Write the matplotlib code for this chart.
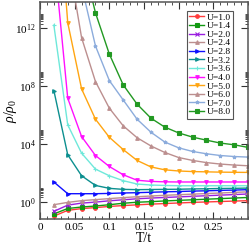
import numpy as np
import matplotlib
matplotlib.use("Agg")
import matplotlib.pyplot as plt
from matplotlib.ticker import FixedLocator, MultipleLocator, LogFormatterMathtext

plt.rcParams['font.family'] = ['Liberation Serif', 'DejaVu Serif']
plt.rcParams['mathtext.fontset'] = 'custom'
plt.rcParams['mathtext.rm'] = 'Liberation Serif'
plt.rcParams['mathtext.it'] = 'Liberation Serif:italic'

# temperaturas T/t
T = [0.02, 0.04, 0.06, 0.08, 0.10, 0.12, 0.14, 0.16, 0.18, 0.20, 0.22, 0.24, 0.26, 0.28, 0.30]
nan = np.nan

# log10(rho/rho0) (nan = sin dato)
u10 = [-1.0, -0.6, -0.48, -0.41, -0.33, -0.27, -0.22, -0.17, -0.13, -0.09, -0.05, -0.02, 0.01, 0.04, 0.07]
u14 = [-0.85, -0.47, -0.37, -0.3, -0.21, -0.11, -0.04, 0.0, 0.05, 0.09, 0.13, 0.17, 0.21, 0.25, 0.29]
u20 = [-0.67, -0.24, -0.1, -0.03, 0.06, 0.13, 0.2, 0.25, 0.29, 0.33, 0.37, 0.41, 0.45, 0.49, 0.53]
u24 = [-0.21, -0.05, 0.07, 0.14, 0.21, 0.28, 0.34, 0.39, 0.44, 0.48, 0.52, 0.56, 0.6, 0.64, 0.68]
u28 = [1.36, 0.55, 0.55, 0.55, 0.57, 0.6, 0.62, 0.65, 0.68, 0.7, 0.73, 0.75, 0.78, 0.8, 0.83]
u32 = [7.68, 3.24, 1.79, 1.12, 0.92, 0.85, 0.83, 0.84, 0.85, 0.86, 0.88, 0.89, 0.91, 0.92, 0.94]
u36 = [12.2, 5.31, 3.35, 2.25, 1.79, 1.45, 1.22, 1.15, 1.12, 1.1, 1.1, 1.1, 1.1, 1.1, 1.1]
u40 = [17.1, 7.15, 4.5, 3.19, 2.43, 1.86, 1.48, 1.4, 1.37, 1.36, 1.36, 1.36, 1.36, 1.36, 1.36]
u50 = [25.0, 12.37, 7.79, 5.7, 4.45, 3.6, 2.85, 2.4, 2.2, 2.12, 2.08, 2.06, 2.04, 2.03, 2.02]
u60 = [nan, 17.0, 11.33, 8.3, 6.46, 5.24, 4.42, 3.85, 3.4, 3.05, 2.85, 2.7, 2.6, 2.53, 2.48]
u70 = [nan, nan, 14.9, 10.76, 8.37, 7.03, 5.7, 4.8, 4.12, 3.72, 3.47, 3.31, 3.19, 3.12, 3.08]
u80 = [nan, nan, 17.0, 13.05, 10.2, 8.07, 6.74, 5.77, 5.15, 4.75, 4.46, 4.25, 4.05, 3.93, 3.75]

etiquetas = ['U=1.0', 'U=1.4', 'U=2.0', 'U=2.4', 'U=2.8', 'U=3.2',
             'U=3.6', 'U=4.0', 'U=5.0', 'U=6.0', 'U=7.0', 'U=8.0']
series = [u10, u14, u20, u24, u28, u32, u36, u40, u50, u60, u70, u80]
colores = ['#ff3c3c', '#119911', '#9a1ee0', '#bc8f8f', '#1010ff', '#0c8f8f',
           '#6ee8da', '#ff10ff', '#ffa511', '#bc8f8f', '#8cacdc', '#229922']
marcas = ['o', 's', 'x', '^', '>', '>', '+', 'v', 'v', '^', '*', 's']

fig = plt.figure(figsize=(2.49, 2.45), dpi=100)
ax = fig.add_axes([0.1606, 0.106, 0.8354, 0.886])

for y, lab, c, m in zip(series, etiquetas, colores, marcas):
    ax.plot(T, 10 ** np.array(y), color=c, marker=m, markersize=2.6,
            markeredgewidth=0.8, linewidth=1.0, label=lab)

ax.set_yscale('log')
ax.set_xlim(0, 0.3)
ax.set_ylim(10 ** -1.2, 10 ** 13.8)

ax.xaxis.set_major_locator(FixedLocator([0, 0.05, 0.1, 0.15, 0.2, 0.25]))
ax.set_xticklabels(['0', '0.05', '0.1', '0.15', '0.2', '0.25'])
ax.xaxis.set_minor_locator(MultipleLocator(0.01))
ax.yaxis.set_major_locator(FixedLocator([1e0, 1e4, 1e8, 1e12]))
ax.yaxis.set_major_formatter(LogFormatterMathtext())
menores = [k * 10.0 ** d for d in (0, 4, 8, 12) for k in range(2, 10)]
ax.yaxis.set_minor_locator(FixedLocator(menores))

ax.tick_params(which='both', direction='in', top=True, right=True,
               labelsize=8, colors='#333333', labelcolor='black')
ax.tick_params(which='major', length=5, width=0.8, pad=3)
ax.tick_params(which='minor', length=2.5, width=0.6)
for s in ax.spines.values():
    s.set_linewidth(1.1)
    s.set_color('#555555')

ax.set_xlabel('T/t', fontsize=10, labelpad=0)
ax.set_ylabel(r'$\rho/\rho_0$', fontsize=10)
ax.yaxis.set_label_coords(-0.1, 0.5)

leg = ax.legend(loc='upper right', bbox_to_anchor=(0.93, 0.96), fontsize=6.8,
                labelspacing=0.0, handlelength=1.6, handletextpad=0.3,
                borderpad=0.25, borderaxespad=0, fancybox=False, framealpha=1)
leg.get_frame().set_edgecolor('#555555')
leg.get_frame().set_linewidth(0.8)

fig.savefig('out.png', dpi=100)
